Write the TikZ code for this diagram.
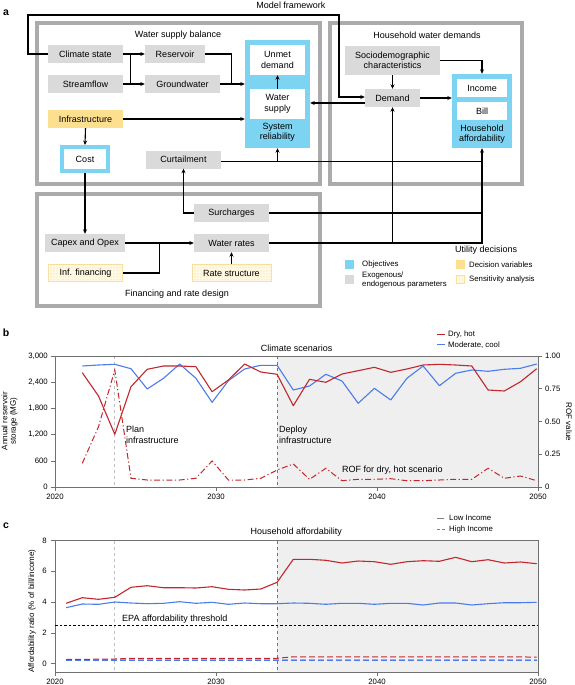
\documentclass[tikz,border=0pt]{standalone}
\usepackage{fontspec}
\setmainfont{Liberation Sans}
\usetikzlibrary{arrows.meta,calc,patterns}
\definecolor{objblue}{HTML}{7DD3F2}
\definecolor{gfill}{HTML}{DADADA}
\definecolor{dvyel}{HTML}{FDE08F}
\definecolor{saFill}{HTML}{FFF9E6}
\definecolor{saDraw}{HTML}{F9E1A0}
\definecolor{saDot}{HTML}{EFCF7A}
\definecolor{grpgray}{HTML}{ABABAB}
\definecolor{lred}{HTML}{C1272D}
\definecolor{lblue}{HTML}{4B7BEC}
\definecolor{lblueL}{HTML}{8FB0F2}
\definecolor{bgshade}{HTML}{EFEFEF}
\definecolor{axgray}{HTML}{707070}
\tikzset{
  fs/.style={font=\fontsize{9}{10.5}\selectfont},
  ax/.style={font=\fontsize{7.8}{8.6}\selectfont, inner sep=0},
  lg/.style={font=\fontsize{7.8}{8.6}\selectfont, inner sep=0},
  plab/.style={font=\fontsize{10.5}{12}\selectfont\bfseries, inner sep=0},
  gbox/.style={fs, fill=gfill, inner sep=0, minimum height=18, align=center},
  ybox/.style={gbox, fill=dvyel},
  sabox/.style={gbox, fill=saFill, draw=saDraw, line width=1, postaction={pattern=dots, pattern color=saDot}},
  wbox/.style={fs, fill=white, inner sep=0, align=center},
  objbox/.style={fill=objblue, inner sep=0},
  grp/.style={draw=grpgray, line width=4.5},
  conn/.style={line width=1.1, black},
  arr/.style={conn, -{Stealth[length=4.5pt,width=4pt]}},
  ttl/.style={fs, inner sep=0},
  tick/.style={axgray, line width=0.6},
  frame/.style={axgray, line width=0.6},
  dd/.style={dash pattern=on 6pt off 2.5pt on 1.2pt off 2.5pt},
}
\begin{document}
\begin{tikzpicture}[x=1pt,y=-1pt]
\useasboundingbox (0,0) rectangle (574,685);
\fill[white] (0,0) rectangle (574,685);

% ================= Panel a =================
\node[plab] (la) at (6,13) {a};
\node[ttl] (mft) at (291,5) {Model framework};

% group boxes
\draw[grp] (37.2,23.2) rectangle (319.8,183.8);
\draw[grp] (330.2,23.2) rectangle (521.8,183.8);
\draw[grp] (37.2,194.2) rectangle (319.8,305.8);
\node[ttl] (wsbt) at (178,35) {Water supply balance};
\node[ttl] (hht) at (427,35) {Household water demands};
\node[ttl] (fint) at (177,294) {Financing and rate design};

% water supply balance nodes
\node[gbox, minimum width=75] (clim) at (85.5,54) {Climate state};
\node[gbox, minimum width=60] (res) at (175,54) {Reservoir};
\node[gbox, minimum width=75] (stream) at (85.5,84) {Streamflow};
\node[gbox, minimum width=75] (ground) at (182.5,84) {Groundwater};
\node[ybox, minimum width=75] (infra) at (85.5,119) {Infrastructure};
\node[wbox, draw=objblue, line width=4, minimum width=46, minimum height=24] (cost) at (85,159) {Cost};
\node[gbox, minimum width=75] (curt) at (183.5,159.5) {Curtailment};

\node[objbox, minimum width=65, minimum height=108] (sysrel) at (277.5,94) {};
\node[wbox, minimum width=55, minimum height=30] (unmet) at (277.5,60) {Unmet\\demand};
\node[wbox, minimum width=55, minimum height=30] (wsup) at (277.5,104) {Water\\supply};
\node[fs, align=center, inner sep=0] (sysrelt) at (277.5,132.5) {System\\reliability};

% household nodes
\node[gbox, minimum width=95, minimum height=29] (socio) at (392.5,60.5) {Sociodemographic\\characteristics};
\node[gbox, minimum width=55] (demand) at (392.5,98) {Demand};
\node[objbox, minimum width=60, minimum height=74] (hha) at (482,111) {};
\node[wbox, minimum width=50, minimum height=18] (income) at (482,88) {Income};
\node[wbox, minimum width=50, minimum height=18] (bill) at (482,111) {Bill};
\node[fs, align=center, inner sep=0] (hhat) at (482,134) {Household\\affordability};

% financing nodes
\node[gbox, minimum width=80] (capex) at (85,243) {Capex and Opex};
\node[sabox, minimum width=74, minimum height=17] (inffin) at (85.5,273) {Inf. financing};
\node[gbox, minimum width=75] (wrates) at (231.5,243) {Water rates};
\node[sabox, minimum width=79, minimum height=17] (ratestr) at (231.5,273) {Rate structure};
\node[gbox, minimum width=75] (surch) at (231.5,213) {Surcharges};

% connectors
\coordinate (lp1) at (28,15);
\coordinate (lp2) at (339,15);
\draw[arr] (clim.west) -| (lp1) -- (lp2) |- ($(demand.west)+(0,-1)$);
\draw[arr] (clim.east) -- (res.west);
\draw[arr] (stream.east) -- (ground.west);
\draw[conn] ($(clim.east)+(7,0)$) -- ($(stream.east)+(7,0)$);
\draw[conn] (res.east) -| ($(ground.east)+(11,0)$);
\draw[arr] (ground.east) -- (ground.east -| sysrel.west);
\draw[arr] (infra.east) -- (infra.east -| sysrel.west);
\draw[arr] (infra.south) -- (cost.north);
\draw[arr] (cost.south) -- (capex.north);
\draw[arr] (wsup.north) -- (unmet.south);
\coordinate (cl) at ($(curt.east)+(0,2)$);
\draw[conn] (cl) -- (cl -| hha.south);
\draw[arr] (cl -| sysrel.south) -- (sysrel.south);
\draw[arr] (surch.west) -| (curt.south);
\draw[conn] (surch.east) -- (surch.east -| hha.south);
\draw[arr] (capex.east) -- (wrates.west);
\draw[conn] (inffin.east) -| ($(capex.east)!0.5!(wrates.west)$);
\draw[arr] (ratestr.north) -- (wrates.south);
\draw[arr] (wrates.east) -| (hha.south);
\draw[arr] (wrates.east -| demand.south) -- (demand.south);
\draw[arr] (socio.south) -- (demand.north);
\draw[arr] (socio.east) -| (hha.north);
\draw[arr] (demand.east) -- (demand.east -| hha.west);
\coordinate (d2) at ($(demand.west)+(0,5)$);
\draw[arr] (d2) -- (d2 -| sysrel.east);

% legend
\node[fs, anchor=west, inner sep=0] (udt) at (455,250) {Utility decisions};
\node[objbox, minimum size=9] (lgo) at (349.5,264.5) {};
\node[lg, anchor=west] (lgot) at (362,264.5) {Objectives};
\node[fill=gfill, inner sep=0, minimum size=9] (lgg) at (349.5,279.5) {};
\node[lg, anchor=west, align=left] (lggt) at (362,280) {Exogenous/\\endogenous parameters};
\node[fill=dvyel, inner sep=0, minimum size=9] (lgd) at (460.5,264.5) {};
\node[lg, anchor=west] (lgdt) at (469,264.5) {Decision variables};
\node[fill=saFill, draw=saDraw, line width=1, inner sep=0, minimum size=8, postaction={pattern=dots, pattern color=saDot}] (lgs) at (460.5,279.5) {};
\node[lg, anchor=west] (lgst) at (469,279) {Sensitivity analysis};

% ================= Panel b =================
\node[plab] (lb) at (6,333) {b};
\fill[bgshade] (277.1,356) rectangle (538,487);
\draw[black!25, line width=0.8, dashed] (114.8,356) -- (114.8,487);
\draw[black!55, line width=0.8, dashed] (277.1,356) -- (277.1,487);
\draw[frame] (55,356) rectangle (538,487);
\foreach \v/\lab [count=\k] in {0/0,0.2/600,0.4/{1,200},0.6/{1,800},0.8/{2,400},1/{3,000}}{
  \draw[tick] (51,487-\v*131) -- (55,487-\v*131);
  \node[ax, anchor=east] (bly\k) at (48,487-\v*131) {\lab};
}
\foreach \v/\lab [count=\k] in {0/0,0.25/0.25,0.5/0.50,0.75/0.75,1/1.00}{
  \draw[tick] (538,487-\v*131) -- (542,487-\v*131);
  \node[ax, anchor=west] (bry\k) at (545,487-\v*131) {\lab};
}
\foreach \yr [count=\k] in {2020,2030,2040,2050}{
  \draw[tick] (55+\k*161-161,487) -- (55+\k*161-161,491);
  \node[ax] (bx\k) at (55+\k*161-161,497) {\yr};
}
\node[ax, rotate=90, align=center, font=\fontsize{8}{8.5}\selectfont] (bylab) at (9.5,421) {Annual reservoir\\storage (MG)};
\node[ax, rotate=-90, font=\fontsize{8}{8.5}\selectfont] (brlab) at (569,422) {ROF value};
\node[ttl] (bt) at (296.7,348) {Climate scenarios};
\draw[lred, line width=1] (437,334) -- (445,334);
\node[lg, anchor=west] (blg1) at (448,334) {Dry, hot};
\draw[lblue, line width=1] (437,344.7) -- (445,344.7);
\node[lg, anchor=west] (blg2) at (448,344.7) {Moderate, cool};
\node[fs, anchor=west, align=left, inner sep=0] (plan) at (126,435) {Plan\\infrastructure};
\node[fs, anchor=west, align=left, inner sep=0] (deploy) at (279,435) {Deploy\\infrastructure};
\node[fs, anchor=west, inner sep=0] (roft) at (342,470) {ROF for dry, hot scenario};

\draw[lblue, line width=1.1, line join=round] plot coordinates {(82.3,366) (98.5,365) (114.8,364.3) (131.0,368.7) (147.2,389) (163.5,378.3) (179.7,364) (195.9,378.3) (212.1,402.3) (228.4,380.7) (244.6,369) (260.8,365.3) (277.1,365.3) (293.3,390) (309.5,386) (325.8,374.3) (342.0,381) (358.2,403.3) (374.4,388.3) (390.7,400) (406.9,378.3) (423.1,366) (439.4,385.7) (455.6,373.3) (471.8,370) (488.1,371.3) (504.3,369.3) (520.5,368.3) (536.7,364)};
\draw[lred, line width=1.1, line join=round] plot coordinates {(82.3,372.7) (98.5,396) (114.8,434.3) (131.0,386.7) (147.2,369.3) (163.5,366) (179.7,366) (195.9,366.7) (212.1,391.7) (228.4,380) (244.6,364) (260.8,372) (277.1,374.3) (293.3,405.7) (309.5,379.3) (325.8,382.3) (342.0,374) (358.2,370.7) (374.4,367.3) (390.7,372.3) (406.9,369) (423.1,365) (439.4,364.3) (455.6,365) (471.8,366) (488.1,390) (504.3,391) (520.5,381.7) (536.7,368.7)};
\draw[lred, line width=1, dd] plot coordinates {(82.3,463.3) (98.5,426.7) (114.8,370) (131.0,478.3) (147.2,480) (163.5,480) (179.7,480) (195.9,478.3) (212.1,461) (228.4,480) (244.6,480) (260.8,478.3) (277.1,470) (293.3,464) (309.5,479.3) (325.8,468.3) (342.0,480.7) (358.2,479.3) (374.4,479.3) (390.7,478.7) (406.9,480.7) (423.1,480.7) (439.4,480) (455.6,479.3) (471.8,479.3) (488.1,468.3) (504.3,478.3) (520.5,476) (536.7,480.7)};

% ================= Panel c =================
\node[plab] (lc) at (6,526) {c};
\fill[bgshade] (277.1,540.5) rectangle (538,672.3);
\draw[black!25, line width=0.8, dashed] (114.8,540.5) -- (114.8,672.3);
\draw[black!55, line width=0.8, dashed] (277.1,540.5) -- (277.1,672.3);
\draw[frame] (55,540.5) rectangle (538,672.3);
\foreach \v [count=\k] in {0,2,4,6,8}{
  \draw[tick] (51,663.7-\v*15.4) -- (55,663.7-\v*15.4);
  \node[ax, anchor=east] (cly\k) at (47,663.7-\v*15.4) {\v};
}
\foreach \yr [count=\k] in {2020,2030,2040,2050}{
  \draw[tick] (55+\k*161-161,672.3) -- (55+\k*161-161,676.3);
  \node[ax] (cx\k) at (55+\k*161-161,682) {\yr};
}
\node[ax, rotate=90, font=\fontsize{8}{8.5}\selectfont] (cylab) at (32,611) {Affordability ratio (\% of bill/income)};
\node[ttl] (ct) at (296.3,532) {Household affordability};
\draw[black!50, line width=0.8] (437,518) -- (444,518);
\node[lg, anchor=west] (clg1) at (449,518) {Low Income};
\draw[black!50, line width=0.8, dash pattern=on 3pt off 1.5pt] (437,529) -- (445,529);
\node[lg, anchor=west] (clg2) at (449,529) {High Income};
\draw[black, line width=0.8, dash pattern=on 2.5pt off 2pt] (55,625.2) -- (538,625.2);
\node[fs, anchor=west, inner sep=0] (epa) at (122,619) {EPA affordability threshold};

\draw[lblue, line width=1.1, line join=round] plot coordinates {(66.1,607.7) (82.3,604) (98.5,604.3) (114.8,602) (131.0,603) (147.2,603.7) (163.5,603.3) (179.7,601.7) (195.9,603.3) (212.1,602.3) (228.4,604.3) (244.6,603) (260.8,603.7) (277.1,603.7) (293.3,603) (309.5,603.3) (325.8,604.3) (342.0,603.3) (358.2,603.3) (374.4,604.3) (390.7,603.3) (406.9,603.3) (423.1,605) (439.4,603) (455.6,603) (471.8,605) (488.1,603.7) (504.3,602.7) (520.5,602.7) (536.7,602.3)};
\draw[lred, line width=1.1, line join=round] plot coordinates {(66.1,603.3) (82.3,597.7) (98.5,599.3) (114.8,597.3) (131.0,587.3) (147.2,585.7) (163.5,587.7) (179.7,587.7) (195.9,588) (212.1,586.7) (228.4,589.3) (244.6,590) (260.8,589) (277.1,582.3) (293.3,559.3) (309.5,559.3) (325.8,560.3) (342.0,563) (358.2,561) (374.4,561.7) (390.7,564.3) (406.9,561.7) (423.1,560.7) (439.4,561.3) (455.6,557.3) (471.8,561.7) (488.1,559.7) (504.3,563) (520.5,562) (536.7,563.7)};
\draw[lblueL, line width=1.8, dash pattern=on 6pt off 3pt] (66.1,660.3) -- (536.7,660.3);
\draw[lblue, line width=0.8, dash pattern=on 6pt off 3pt] (66.1,660.3) -- (536.7,660.3);
\draw[lred, line width=1, dash pattern=on 6pt off 3pt] plot coordinates {(66.1,659.5) (114.8,659) (131,658.3) (277.1,658.3) (293.3,656.8) (536.7,657)};
\end{tikzpicture}
\end{document}
